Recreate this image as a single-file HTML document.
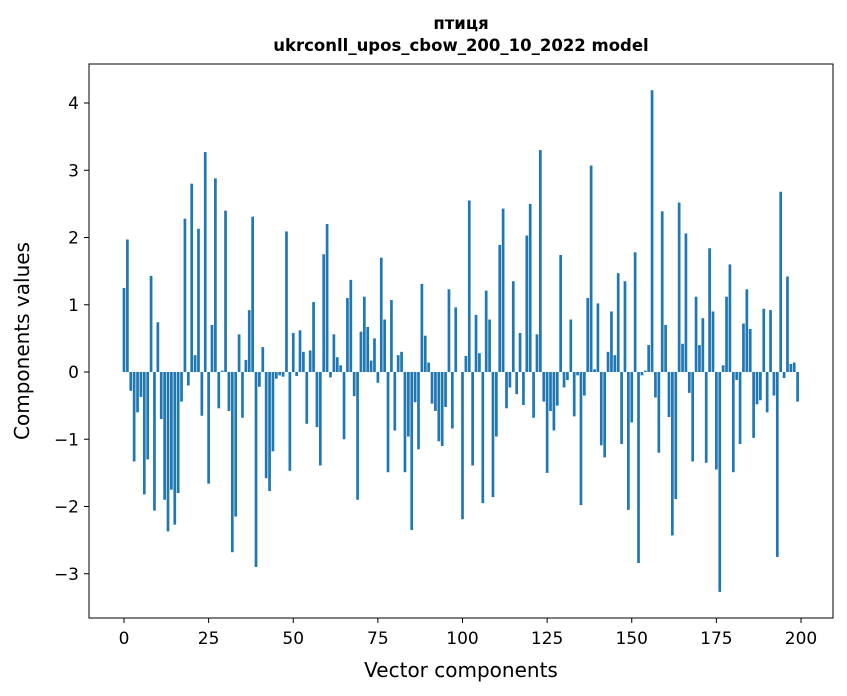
<!DOCTYPE html>
<html><head><meta charset="utf-8"><style>
body{margin:0;background:#fff;font-family:"DejaVu Sans","Liberation Sans",sans-serif}
svg{display:block}
</style></head><body>
<svg id="chart" width="847" height="696" xmlns="http://www.w3.org/2000/svg" font-family="DejaVu Sans, Liberation Sans, sans-serif">
<text x="461" y="29" text-anchor="middle" font-weight="bold" font-size="16.5">птиця</text>
<text x="461" y="51" text-anchor="middle" font-weight="bold" font-size="16.5">ukrconll_upos_cbow_200_10_2022 model</text>
<g id="bars"></g>
<g id="axes"></g>
<rect x="89" y="64" width="744" height="554" fill="none" stroke="#000" stroke-width="1"/>
<text x="461" y="677" text-anchor="middle" font-size="20">Vector components</text>
<text x="29" y="341" text-anchor="middle" font-size="20" transform="rotate(-90 29 341)">Components values</text>
</svg>
<script>
const values=[1.25,1.97,-0.28,-1.33,-0.6,-0.37,-1.82,-1.3,1.43,-2.06,0.74,-0.7,-1.9,-2.37,-1.75,-2.27,-1.8,-0.44,2.28,-0.2,
2.8,0.25,2.13,-0.65,3.27,-1.66,0.7,2.88,-0.54,0.02,2.4,-0.58,-2.68,-2.15,0.56,-0.68,0.18,0.92,2.31,-2.9,
-0.22,0.37,-1.58,-1.77,-1.18,-0.1,-0.05,-0.07,2.09,-1.47,0.58,-0.06,0.62,0.3,-0.77,0.32,1.04,-0.82,-1.39,1.75,
2.2,-0.08,0.56,0.22,0.1,-1.0,1.1,1.37,-0.36,-1.9,0.6,1.12,0.67,0.17,0.5,-0.16,1.7,0.78,-1.49,1.07,
-0.87,0.25,0.3,-1.49,-0.96,-2.35,-0.45,-1.15,1.31,0.54,0.14,-0.47,-0.58,-1.03,-1.1,-0.52,1.23,-0.84,0.96,0,
-2.19,0.24,2.55,-1.39,0.85,0.28,-1.95,1.21,0.78,-1.86,-0.96,1.89,2.43,-0.54,-0.23,1.35,-0.33,0.58,-0.49,2.03,
2.5,-0.68,0.56,3.3,-0.44,-1.5,-0.58,-0.87,-0.5,1.74,-0.23,-0.12,0.78,-0.66,-0.05,-1.98,-0.35,1.1,3.07,0.04,
1.02,-1.09,-1.27,0.3,0.9,0.25,1.47,-1.07,1.35,-2.05,-0.75,1.78,-2.84,-0.05,0.02,0.4,4.19,-0.38,-1.2,2.39,
0.7,-0.67,-2.43,-1.89,2.52,0.42,2.06,-0.31,-1.33,1.12,0.4,0.8,-1.35,1.84,0.9,-1.45,-3.27,0.1,1.12,1.6,
-1.49,-0.12,-1.07,0.72,1.23,0.64,-0.98,-0.48,-0.42,0.94,-0.6,0.92,-0.35,-2.75,2.68,-0.09,1.42,0.12,0.14,-0.44];
const xTicks=[0,25,50,75,100,125,150,175,200];
const yTicks=[-3,-2,-1,0,1,2,3,4];
const NS="http://www.w3.org/2000/svg";
const xs=v=>124+v*3.385;
const ys=v=>372-v*67.25;
const bars=document.getElementById('bars');
values.forEach((v,i)=>{
  const r=document.createElementNS(NS,'rect');
  r.setAttribute('x',xs(i-0.4));
  r.setAttribute('width',3.385*0.8);
  r.setAttribute('y',Math.min(ys(v),ys(0)));
  r.setAttribute('height',Math.abs(ys(v)-ys(0)));
  r.setAttribute('fill','#1f77b4');
  
  
  bars.appendChild(r);
});
const axes=document.getElementById('axes');
xTicks.forEach(t=>{
  const l=document.createElementNS(NS,'line');
  l.setAttribute('x1',xs(t));l.setAttribute('x2',xs(t));l.setAttribute('y1',618);l.setAttribute('y2',623);l.setAttribute('stroke','#000');
  
  
  axes.appendChild(l);
  const tx=document.createElementNS(NS,'text');
  tx.setAttribute('x',xs(t));tx.setAttribute('y',644);tx.setAttribute('text-anchor','middle');tx.setAttribute('font-size','17');
  tx.textContent=t;
  
  
  axes.appendChild(tx);
});
yTicks.forEach(t=>{
  const l=document.createElementNS(NS,'line');
  l.setAttribute('x1',84);l.setAttribute('x2',89);l.setAttribute('y1',ys(t));l.setAttribute('y2',ys(t));l.setAttribute('stroke','#000');
  
  
  axes.appendChild(l);
  const tx=document.createElementNS(NS,'text');
  tx.setAttribute('x',79);tx.setAttribute('y',ys(t)+6);tx.setAttribute('text-anchor','end');tx.setAttribute('font-size','17');
  tx.textContent=t<0?'\u2212'+Math.abs(t):String(t);
  
  
  axes.appendChild(tx);
});
</script>
</body></html>
